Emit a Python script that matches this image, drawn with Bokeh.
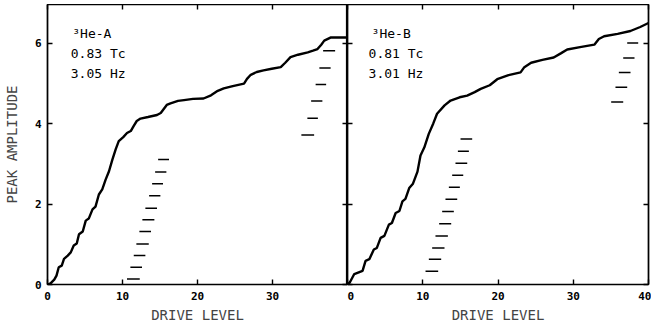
from bokeh.plotting import figure
from bokeh.layouts import row
from bokeh.models import Label, LinearAxis, FixedTicker, Range1d
from bokeh.embed import file_html
from bokeh.resources import INLINE

# ---------------- data ----------------
x_ticks = [0, 10, 20, 30, 40]
y_ticks = [0, 2, 4, 6]

# 3He-A trace (drive level, peak amplitude)
a_drive = [0.0, 0.4, 0.9, 1.2, 1.5, 1.9, 2.2, 2.7, 3.1, 3.5, 3.9, 4.2, 4.7, 5.1, 5.5,
           6.0, 6.4, 6.85, 7.3, 7.75, 8.2, 8.65, 9.1, 9.5, 10.1, 10.6, 11.1, 11.5,
           11.9, 12.4, 13.4, 14.6, 15.1, 15.5, 15.9, 16.4, 17.4, 18.2, 19.4, 20.8,
           21.8, 22.7, 23.5, 24.7, 26.2, 26.6, 27.1, 27.9, 28.8, 29.9, 31.1, 31.7,
           32.4, 33.4, 34.7, 35.4, 36.0, 36.5, 36.9, 37.8, 38.9, 40.0]
a_amp = [0.0, 0.03, 0.12, 0.22, 0.43, 0.47, 0.64, 0.72, 0.8, 0.97, 1.02, 1.25, 1.32,
         1.59, 1.64, 1.87, 1.94, 2.24, 2.37, 2.61, 2.82, 3.11, 3.37, 3.57, 3.67,
         3.77, 3.82, 3.95, 4.07, 4.13, 4.17, 4.22, 4.27, 4.37, 4.47, 4.51, 4.57,
         4.59, 4.62, 4.63, 4.71, 4.82, 4.88, 4.94, 5.0, 5.12, 5.22, 5.29, 5.33,
         5.37, 5.41, 5.52, 5.66, 5.72, 5.78, 5.82, 5.86, 5.97, 6.07, 6.15, 6.15, 6.15]

# 3He-B trace
b_drive = [0.0, 0.3, 0.9, 2.0, 2.4, 2.9, 3.5, 3.9, 4.4, 4.9, 5.5, 5.9, 6.4, 6.9, 7.3,
           7.7, 8.2, 8.7, 9.3, 9.7, 10.2, 10.8, 11.4, 11.9, 12.9, 13.7, 14.9, 15.9,
           16.9, 17.7, 18.9, 19.9, 21.4, 23.0, 23.5, 24.4, 25.9, 27.4, 28.4, 29.2,
           30.9, 32.8, 33.4, 34.1, 35.9, 37.6, 38.9, 40.0]
b_amp = [0.0, 0.05, 0.26, 0.34, 0.59, 0.63, 0.87, 0.91, 1.16, 1.21, 1.49, 1.53, 1.78,
         1.83, 2.07, 2.13, 2.4, 2.51, 2.81, 3.21, 3.41, 3.75, 4.01, 4.25, 4.46, 4.58,
         4.66, 4.7, 4.79, 4.87, 4.96, 5.11, 5.21, 5.28, 5.41, 5.52, 5.59, 5.65, 5.76,
         5.85, 5.91, 5.97, 6.11, 6.18, 6.24, 6.31, 6.41, 6.51]

# scale marks (short horizontal dashes)
a_low_y = [0.14, 0.43, 0.72, 1.01, 1.32, 1.61, 1.90, 2.21, 2.51, 2.80, 3.11]
a_low_x0 = [10.6, 11.05, 11.5, 11.85, 12.25, 12.65, 13.05, 13.55, 13.95, 14.35, 14.75]
a_low_x1 = [12.3, 12.6, 13.05, 13.5, 13.8, 14.25, 14.6, 15.05, 15.4, 15.85, 16.2]
a_high_y = [3.72, 4.14, 4.57, 4.98, 5.39, 5.82]
a_high_x0 = [33.85, 34.65, 35.15, 35.75, 36.25, 36.75]
a_high_x1 = [35.55, 36.05, 36.65, 37.15, 37.75, 38.35]

b_low_y = [0.33, 0.63, 0.91, 1.21, 1.51, 1.82, 2.12, 2.42, 2.72, 3.02, 3.32, 3.62]
b_low_x0 = [10.37, 10.81, 11.25, 11.69, 12.18, 12.58, 13.02, 13.47, 13.91, 14.35, 14.67, 15.02]
b_low_x1 = [12.05, 12.45, 12.89, 13.34, 13.78, 14.13, 14.58, 14.93, 15.38, 15.91, 16.13, 16.57]
b_high_y = [4.54, 4.91, 5.28, 5.64, 6.01]
b_high_x0 = [35.04, 35.61, 36.06, 36.64, 37.17]
b_high_x1 = [36.64, 37.17, 37.61, 38.14, 38.63]

FONT = "DejaVu Sans Mono"


def style_axis(ax, ticks, labels=True):
    ax.ticker = FixedTicker(ticks=ticks)
    ax.axis_line_color = "black"
    ax.axis_line_width = 1.6
    ax.major_tick_line_color = "black"
    ax.major_tick_line_width = 1.4
    ax.major_tick_in = 5
    ax.major_tick_out = 0
    ax.minor_tick_in = 0
    ax.minor_tick_out = 0
    ax.major_label_text_font = FONT
    ax.major_label_text_font_style = "bold"
    ax.major_label_text_font_size = "11px"
    ax.major_label_text_color = "black"
    if not labels:
        ax.major_label_overrides = {t: "" for t in ticks}
        ax.major_label_text_font_size = "1px"
        ax.major_label_standoff = 0


def make_panel(drive, amp, dashes, texts, left_panel):
    p = figure(frame_width=300 if left_panel else 301, frame_height=280,
               x_range=Range1d(0, 40), y_range=Range1d(0, 6.97),
               output_backend="svg", toolbar_location=None,
               min_border_left=0, min_border_right=0 if left_panel else 3,
               min_border_top=0, min_border_bottom=0)
    p.xgrid.visible = False
    p.ygrid.visible = False
    p.outline_line_color = "black"
    p.outline_line_width = 1.2
    p.background_fill_color = "white"
    p.border_fill_color = "white"

    xa = p.xaxis[0]
    ya = p.yaxis[0]
    style_axis(xa, x_ticks)
    xa.major_label_standoff = 7
    xa.axis_label = "DRIVE LEVEL"
    xa.axis_label_text_font = FONT
    xa.axis_label_text_font_style = "normal"
    xa.axis_label_text_font_size = "14px"
    xa.axis_label_standoff = 4
    if left_panel:
        xa.major_label_overrides = {40: ""}
        style_axis(ya, y_ticks)
        ya.major_label_standoff = 6
        ya.axis_label = "PEAK AMPLITUDE"
        ya.axis_label_text_font = FONT
        ya.axis_label_text_font_style = "normal"
        ya.axis_label_text_font_size = "14px"
        ya.axis_label_standoff = 12
    else:
        style_axis(ya, y_ticks, labels=False)

    top = LinearAxis()
    style_axis(top, x_ticks, labels=False)
    p.add_layout(top, "above")
    right = LinearAxis()
    style_axis(right, y_ticks, labels=False)
    p.add_layout(right, "right")

    p.line(drive, amp, line_color="black", line_width=2.4)
    for ys, x0s, x1s in dashes:
        p.segment(x0=x0s, y0=ys, x1=x1s, y1=ys, line_color="black", line_width=1.5)

    for (tx, ty, tt) in texts:
        p.add_layout(Label(x=tx, y=ty, text=tt, text_font=FONT, text_font_size="13px",
                           text_baseline="middle", text_color="black"))
    return p


pa = make_panel(a_drive, a_amp,
                [(a_low_y, a_low_x0, a_low_x1), (a_high_y, a_high_x0, a_high_x1)],
                [(3.3, 6.25, "³He-A"), (3.1, 5.75, "0.83 Tc"), (3.1, 5.25, "3.05 Hz")],
                True)
pb = make_panel(b_drive, b_amp,
                [(b_low_y, b_low_x0, b_low_x1), (b_high_y, b_high_x0, b_high_x1)],
                [(3.2, 6.25, "³He-B"), (2.8, 5.75, "0.81 Tc"), (2.8, 5.25, "3.01 Hz")],
                False)

layout = row(pa, pb, spacing=0,
             styles={"margin-top": "-4px", "margin-left": "-6px",
                     "position": "relative", "top": "8px", "left": "6px"})

open("out.html", "w").write(file_html(layout, INLINE))
